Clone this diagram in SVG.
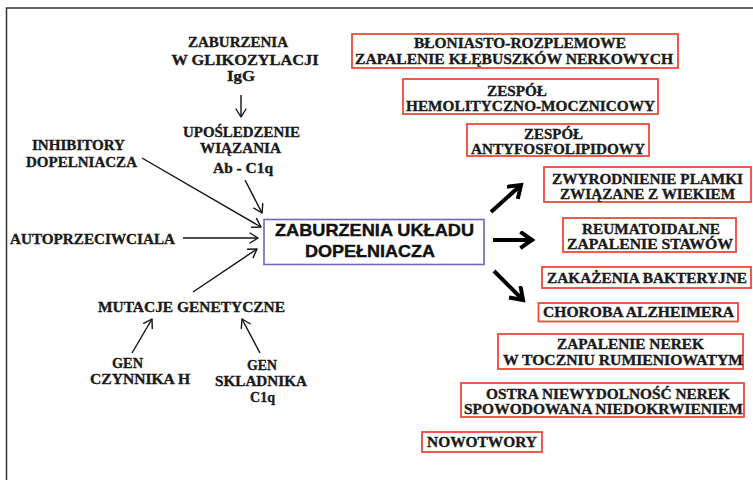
<svg xmlns="http://www.w3.org/2000/svg" width="753" height="480" viewBox="0 0 753 480">
<defs>
<marker id="thin" markerUnits="userSpaceOnUse" markerWidth="14" markerHeight="14" refX="9" refY="6" orient="auto">
<path d="M1,1 L9,6 L1,11" fill="none" stroke="#111" stroke-width="1.4" stroke-linecap="round" stroke-linejoin="round"/>
</marker>
<marker id="thick" markerUnits="userSpaceOnUse" markerWidth="20" markerHeight="20" refX="13" refY="9" orient="auto">
<path d="M3,2 L13,9 L3,16" fill="none" stroke="#000" stroke-width="4" stroke-linecap="square" stroke-linejoin="miter"/>
</marker>
<style>
.t{font-family:"Liberation Serif","Times New Roman",serif;font-weight:bold;font-size:15px;fill:#1a1a1a;stroke:#1a1a1a;stroke-width:0.35;text-anchor:middle}
.c{font-family:"Liberation Sans",Arial,sans-serif;font-weight:bold;font-size:17px;fill:#111;stroke:#111;stroke-width:0.4;text-anchor:middle}
.rb{fill:#fff;stroke:#ee4a38;stroke-width:1.8}
.cb{fill:#fff;stroke:#6f63c4;stroke-width:1.6}
.a{fill:none;stroke:#111;stroke-width:1.4;marker-end:url(#thin)}
.A{fill:none;stroke:#000;stroke-width:4;marker-end:url(#thick)}
</style>
</defs>
<rect width="753" height="480" fill="#fff"/>
<path d="M6.5,480 V8 H753" fill="none" stroke="#333" stroke-width="1.5"/>

<g id="connectors">
<line class="a" x1="241" y1="95" x2="241" y2="117"/>
<line class="a" x1="245" y1="180" x2="262" y2="213"/>
<line class="a" x1="142" y1="158" x2="261" y2="227"/>
<line class="a" x1="183" y1="238" x2="258" y2="238"/>
<line class="a" x1="193" y1="292" x2="257" y2="249"/>
<line class="a" x1="132" y1="353" x2="152" y2="319"/>
<line class="a" x1="260" y1="353" x2="242" y2="319"/>
<line class="A" x1="491" y1="212" x2="521" y2="185"/>
<line class="A" x1="493" y1="240" x2="532" y2="240"/>
<line class="A" x1="494" y1="271" x2="523" y2="300"/>
</g>

<g id="center">
<rect class="cb" x="264" y="219.5" width="220" height="45"/>
<text class="c" x="374.5" y="236" textLength="199" lengthAdjust="spacingAndGlyphs">ZABURZENIA UKŁADU</text>
<text class="c" x="370" y="257" textLength="130" lengthAdjust="spacingAndGlyphs">DOPEŁNIACZA</text>
</g>

<g id="glikozylacja">
<text class="t" x="238" y="47" textLength="100" lengthAdjust="spacingAndGlyphs">ZABURZENIA</text>
<text class="t" x="245" y="65" textLength="147" lengthAdjust="spacingAndGlyphs">W GLIKOZYLACJI</text>
<text class="t" x="241" y="81" textLength="28" lengthAdjust="spacingAndGlyphs">IgG</text>
</g>
<g id="uposledzenie">
<text class="t" x="241.5" y="137" textLength="117" lengthAdjust="spacingAndGlyphs">UPOŚLEDZENIE</text>
<text class="t" x="240.5" y="153" textLength="81" lengthAdjust="spacingAndGlyphs">WIĄZANIA</text>
<text class="t" x="243" y="173" textLength="60" lengthAdjust="spacingAndGlyphs">Ab - C1q</text>
</g>
<g id="inhibitory">
<text class="t" x="78.5" y="150" textLength="93" lengthAdjust="spacingAndGlyphs">INHIBITORY</text>
<text class="t" x="81.5" y="167" textLength="111" lengthAdjust="spacingAndGlyphs">DOPELNIACZA</text>
</g>
<g id="autoprzeciwciala">
<text class="t" x="92.5" y="244" textLength="165" lengthAdjust="spacingAndGlyphs">AUTOPRZECIWCIALA</text>
</g>
<g id="mutacje">
<text class="t" x="191.5" y="312" textLength="187" lengthAdjust="spacingAndGlyphs">MUTACJE GENETYCZNE</text>
</g>
<g id="gen-h">
<text class="t" x="127.5" y="368" textLength="31" lengthAdjust="spacingAndGlyphs">GEN</text>
<text class="t" x="140" y="384" textLength="100" lengthAdjust="spacingAndGlyphs">CZYNNIKA H</text>
</g>
<g id="gen-c1q">
<text class="t" x="262" y="370" textLength="30" lengthAdjust="spacingAndGlyphs">GEN</text>
<text class="t" x="261" y="386" textLength="92" lengthAdjust="spacingAndGlyphs">SKLADNIKA</text>
<text class="t" x="262.5" y="402" textLength="25" lengthAdjust="spacingAndGlyphs">C1q</text>
</g>

<g id="d1">
<rect class="rb" x="352" y="34" width="326" height="34"/>
<text class="t" x="520" y="48" textLength="212" lengthAdjust="spacingAndGlyphs">BŁONIASTO-ROZPLEMOWE</text>
<text class="t" x="514" y="64" textLength="318" lengthAdjust="spacingAndGlyphs">ZAPALENIE KŁĘBUSZKÓW NERKOWYCH</text>
</g>
<g id="d2">
<rect class="rb" x="403" y="79" width="255" height="35"/>
<text class="t" x="517" y="96" textLength="60" lengthAdjust="spacingAndGlyphs">ZESPÓŁ</text>
<text class="t" x="530.5" y="110.5" textLength="249" lengthAdjust="spacingAndGlyphs">HEMOLITYCZNO-MOCZNICOWY</text>
</g>
<g id="d3">
<rect class="rb" x="467" y="124" width="182" height="32"/>
<text class="t" x="553.5" y="138.5" textLength="59" lengthAdjust="spacingAndGlyphs">ZESPÓŁ</text>
<text class="t" x="558" y="153.5" textLength="174" lengthAdjust="spacingAndGlyphs">ANTYFOSFOLIPIDOWY</text>
</g>
<g id="d4">
<rect class="rb" x="544" y="167" width="207" height="35"/>
<text class="t" x="647.5" y="184" textLength="191" lengthAdjust="spacingAndGlyphs">ZWYRODNIENIE PLAMKI</text>
<text class="t" x="647.5" y="198.5" textLength="175" lengthAdjust="spacingAndGlyphs">ZWIĄZANE Z WIEKIEM</text>
</g>
<g id="d5">
<rect class="rb" x="563" y="218" width="173" height="34"/>
<text class="t" x="651" y="234" textLength="138" lengthAdjust="spacingAndGlyphs">REUMATOIDALNE</text>
<text class="t" x="650" y="249" textLength="166" lengthAdjust="spacingAndGlyphs">ZAPALENIE STAWÓW</text>
</g>
<g id="d6">
<rect class="rb" x="542" y="267" width="209" height="21"/>
<text class="t" x="647" y="283" textLength="200" lengthAdjust="spacingAndGlyphs">ZAKAŻENIA BAKTERYJNE</text>
</g>
<g id="d7">
<rect class="rb" x="538.5" y="303" width="199.5" height="18.5"/>
<text class="t" x="638.5" y="317" textLength="191" lengthAdjust="spacingAndGlyphs">CHOROBA ALZHEIMERA</text>
</g>
<g id="d8">
<rect class="rb" x="498" y="334" width="245" height="35"/>
<text class="t" x="630.5" y="348.5" textLength="147" lengthAdjust="spacingAndGlyphs">ZAPALENIE NEREK</text>
<text class="t" x="623" y="365" textLength="240" lengthAdjust="spacingAndGlyphs">W TOCZNIU RUMIENIOWATYM</text>
</g>
<g id="d9">
<rect class="rb" x="461" y="383" width="283" height="34"/>
<text class="t" x="608" y="399" textLength="244" lengthAdjust="spacingAndGlyphs">OSTRA NIEWYDOLNOŚĆ NEREK</text>
<text class="t" x="603.5" y="414" textLength="279" lengthAdjust="spacingAndGlyphs">SPOWODOWANA NIEDOKRWIENIEM</text>
</g>
<g id="d10">
<rect class="rb" x="422" y="432" width="120" height="20"/>
<text class="t" x="482" y="447" textLength="110" lengthAdjust="spacingAndGlyphs">NOWOTWORY</text>
</g>
</svg>
